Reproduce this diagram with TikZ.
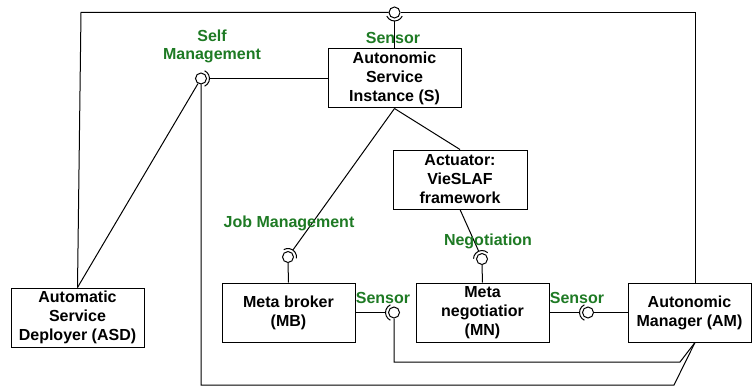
\documentclass[tikz,border=0pt]{standalone}
\usepackage{fontspec}
\setmainfont{Liberation Sans}
\definecolor{labgreen}{RGB}{30,122,36}
\tikzset{
  comp/.style={draw, align=center, inner sep=0pt, minimum height=59,
    font=\fontsize{16}{19}\selectfont\bfseries},
  ball/.style={draw, circle, minimum size=11, inner sep=0pt},
  lab/.style={text=labgreen, align=center,
    font=\fontsize{16}{18}\selectfont\bfseries},
  socket/.pic={
    \draw (-65:8.5) arc[start angle=-65, end angle=65, radius=8.5];
    \coordinate (-tip) at (8.5,0);
  }
}
\begin{document}
\begin{tikzpicture}[x=1pt, y=1pt, line width=1pt]
      \useasboundingbox (0,0) rectangle (752,389);
      %
      \node[comp, minimum width=133] (S) at (394.5,310.5) {Autonomic\\Service\\Instance (S)};
      \node[comp, minimum width=134] (Act) at (460,209.5) {Actuator:\\VieSLAF\\framework};
      \node[comp, minimum width=133] (ASD) at (77.5,71.5) {Automatic\\Service\\Deployer (ASD)};
      \node[comp, minimum width=133] (MB) at (288.5,76.5) {Meta broker\\(MB)};
      \node[comp, minimum width=133] (MN) at (482.5,76.5) {Meta\\negotiatior\\(MN)};
      \node[comp, minimum width=123] (AM) at (689.5,76.5) {Autonomic\\Manager (AM)};
      %
      \coordinate (amN) at ([xshift=5.5]AM.north);
      \coordinate (amS) at ([xshift=5.5]AM.south);
      %
      \node[ball] (topS) at (394.5,376.5) {};
      \node[ball] (selfM) at (201,310.5) {};
      \node[ball] (jobM) at (288,132) {};
      \node[ball] (negM) at (482,130) {};
      \node[ball] (sensMB) at (394,76.5) {};
      \node[ball] (sensMN) at (588,76.5) {};
      %
      \pic[rotate=-90] (topSk) at (topS.center) {socket};
      \pic (selfMk) at (selfM.center) {socket};
      \pic[rotate=55] (jobMk) at (jobM.center) {socket};
      \pic[rotate=113] (negMk) at (negM.center) {socket};
      \pic[rotate=180] (sensMBk) at (sensMB.center) {socket};
      \pic[rotate=180] (sensMNk) at (sensMN.center) {socket};
      %
      \draw (ASD.north) -- (81,376.5) -- (topS.west);
      \draw (topS.east) -- (695,376.5) -- (amN);
      \draw (topSk-tip) -- (S.north);
      \draw (selfMk-tip) -- (S.west);
      \draw (selfM) -- (ASD.north);
      \draw (selfM.south) |- (674,4) -- (amS);
      \draw (sensMB.south) |- (680,27) -- (amS);
      \draw (S.south) -- (Act.north);
      \draw (S.south) -- (jobMk-tip);
      \draw (jobM.south) -- (MB.north);
      \draw (Act.south) -- (negMk-tip);
      \draw (negM.south) -- (MN.north);
      \draw (MB.east) -- (sensMBk-tip);
      \draw (MN.east) -- (sensMNk-tip);
      \draw (sensMN.east) -- (AM.west);
      %
      \node[lab] (selfL) at (212,343) {Self\\Management};
      \node[lab] (topL) at (393,351) {Sensor};
      \node[lab] (jobL) at (289,166) {Job Management};
      \node[lab] (negL) at (488,148) {Negotiation};
      \node[lab] (mbL) at (383,91) {Sensor};
      \node[lab] (mnL) at (577,91) {Sensor};
      %
    \end{tikzpicture}
\end{document}
